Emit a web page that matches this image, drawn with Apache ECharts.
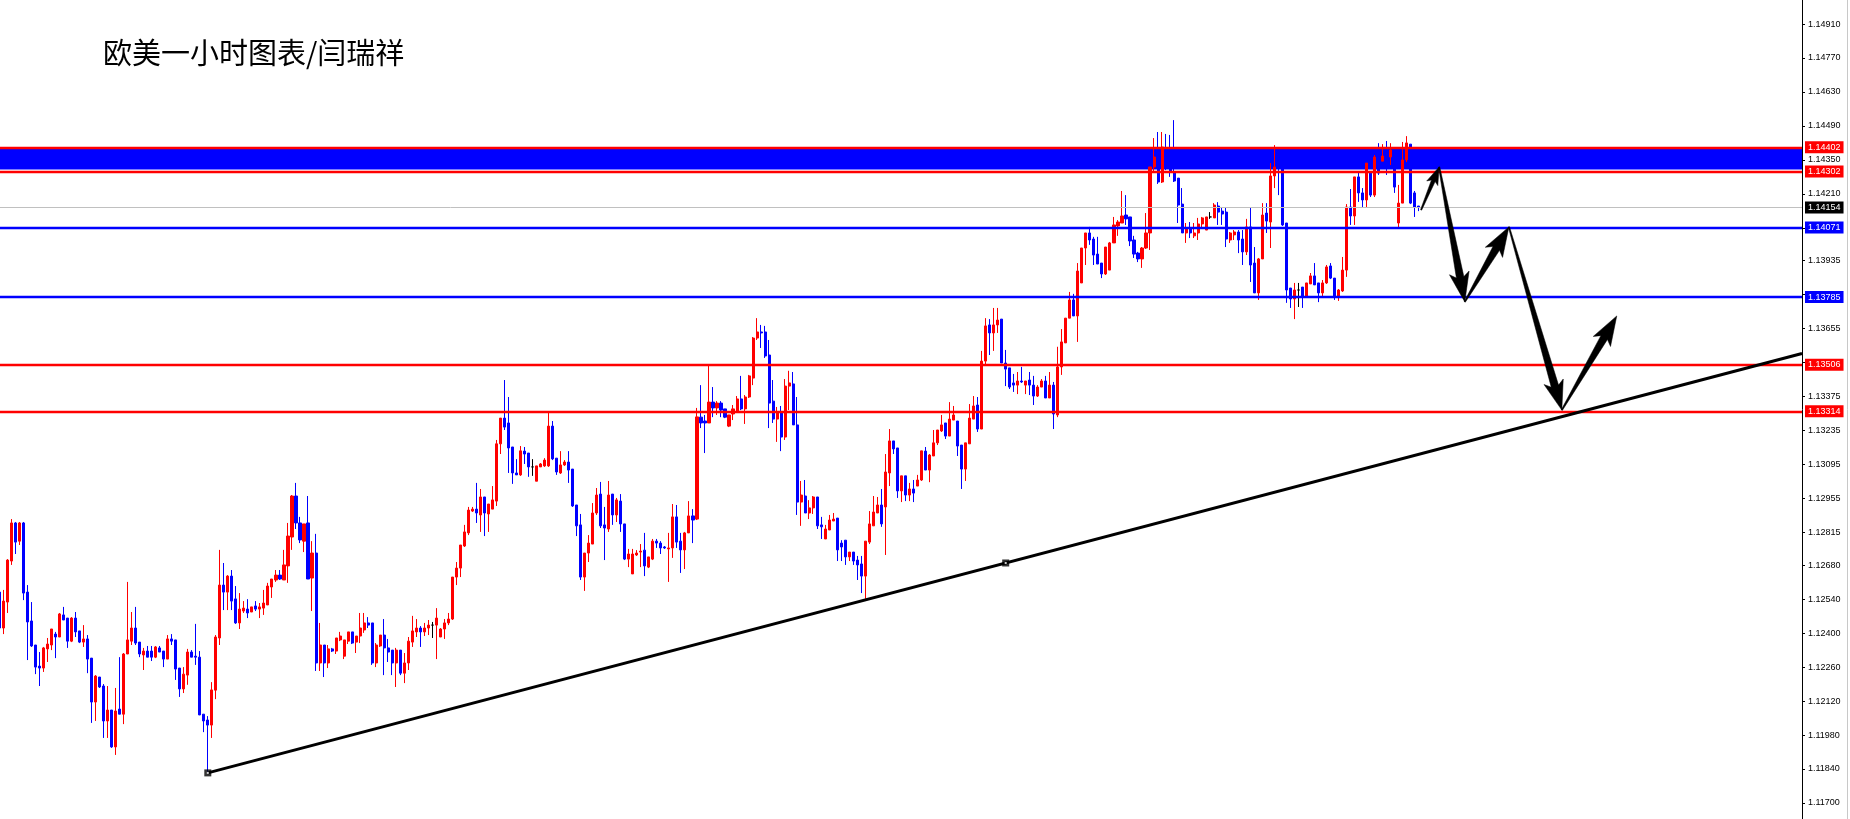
<!DOCTYPE html>
<html><head><meta charset="utf-8">
<script src="https://cdn.jsdelivr.net/npm/echarts@6/dist/echarts.min.js"></script>
<style>html,body{margin:0;padding:0;background:#fff}#c{width:1850px;height:819px}</style>
</head><body><div id="c"></div>
<script>
const chartTitle = '欧美一小时图表/闫瑞祥';
const opens = [
1.12569,1.12421,1.12528,1.12697,1.12854,1.12779,1.12854,1.12569,1.12450,1.12351,
1.12264,1.12256,1.12335,1.12351,1.12396,1.12384,1.12475,1.12462,1.12367,1.12462,
1.12409,1.12363,1.12376,1.12297,1.12116,1.12219,1.12182,1.12038,1.12083,1.11931,
1.12087,1.12066,1.12314,1.12367,1.12421,1.12363,1.12310,1.12326,1.12326,1.12301,
1.12339,1.12326,1.12293,1.12376,1.12372,1.12256,1.12170,1.12227,1.12322,1.12305,
1.12301,1.12066,1.12042,1.12021,1.12165,1.12380,1.12598,1.12569,1.12635,1.12541,
1.12442,1.12491,1.12499,1.12487,1.12512,1.12499,1.12503,1.12516,1.12590,1.12619,
1.12639,1.12619,1.12677,1.12796,1.12965,1.12854,1.12779,1.12854,1.12627,1.12730,
1.12277,1.12351,1.12277,1.12335,1.12326,1.12372,1.12305,1.12367,1.12405,1.12363,
1.12388,1.12413,1.12442,1.12442,1.12277,1.12347,1.12392,1.12339,1.12330,1.12277,
1.12330,1.12235,1.12277,1.12363,1.12405,1.12421,1.12405,1.12421,1.12433,1.12433,
1.12384,1.12417,1.12442,1.12458,1.12631,1.12668,1.12759,1.12813,1.12903,1.12911,
1.12887,1.12961,1.12891,1.12911,1.12944,1.13180,1.13286,1.13266,1.13167,1.13060,
1.13052,1.13150,1.13142,1.13085,1.13026,1.13085,1.13089,1.13089,1.13253,1.13121,
1.13060,1.13093,1.13105,1.13076,1.12928,1.12846,1.12631,1.12730,1.12767,1.12895,
1.12973,1.12846,1.12829,1.12973,1.12887,1.12944,1.12850,1.12705,1.12644,1.12722,
1.12734,1.12742,1.12672,1.12705,1.12779,1.12771,1.12755,1.12747,1.12751,1.12879,
1.12779,1.12743,1.12813,1.12883,1.12870,1.13290,1.13274,1.13266,1.13352,1.13328,
1.13348,1.13324,1.13253,1.13303,1.13311,1.13365,1.13324,1.13373,1.13451,1.13616,
1.13641,1.13641,1.13546,1.13356,1.13282,1.13307,1.13208,1.13418,1.13427,1.13258,
1.12940,1.12965,1.12895,1.12916,1.12961,1.12846,1.12788,1.12825,1.12862,1.12874,
1.12771,1.12783,1.12714,1.12734,1.12701,1.12685,1.12635,1.12775,1.12842,1.12895,
1.12928,1.12920,1.13060,1.13192,1.13163,1.12986,1.13048,1.12969,1.12994,1.13006,
1.13031,1.13150,1.13072,1.13130,1.13184,1.13233,1.13266,1.13212,1.13278,1.13274,
1.13175,1.13076,1.13180,1.13282,1.13340,1.13241,1.13521,1.13670,1.13637,1.13670,
1.13694,1.13513,1.13493,1.13431,1.13422,1.13439,1.13422,1.13443,1.13422,1.13377,
1.13414,1.13439,1.13369,1.13422,1.13299,1.13497,1.13596,1.13698,1.13773,1.13707,
1.13843,1.13987,1.14049,1.14024,1.13962,1.13925,1.13880,1.13896,1.14008,1.14078,
1.14090,1.14123,1.14115,1.14020,1.13966,1.13942,1.13987,1.14049,1.14321,1.14321,
1.14259,1.14391,1.14362,1.14300,1.14275,1.14168,1.14049,1.14065,1.14037,1.14049,
1.14086,1.14061,1.14115,1.14111,1.14160,1.14139,1.14135,1.14020,1.14041,1.14053,
1.14024,1.13971,1.14074,1.13925,1.13802,1.13942,1.14131,1.14094,1.14284,1.14337,
1.14317,1.14090,1.13822,1.13777,1.13814,1.13826,1.13785,1.13839,1.13872,1.13843,
1.13802,1.13843,1.13913,1.13863,1.13785,1.13810,1.13896,1.14156,1.14119,1.14280,
1.14214,1.14185,1.14300,1.14205,1.14390,1.14345,1.14391,1.14362,1.14317,1.14090,
1.14172,1.14350,1.14415,1.14214,1.14160
];
const closes = [
1.12421,1.12532,1.12701,1.12854,1.12775,1.12854,1.12565,1.12446,1.12347,1.12260,
1.12256,1.12339,1.12355,1.12417,1.12384,1.12479,1.12454,1.12367,1.12462,1.12405,
1.12363,1.12376,1.12293,1.12116,1.12223,1.12178,1.12038,1.12083,1.11931,1.12079,
1.12066,1.12314,1.12372,1.12421,1.12359,1.12314,1.12326,1.12301,1.12301,1.12343,
1.12322,1.12293,1.12376,1.12367,1.12252,1.12170,1.12231,1.12322,1.12301,1.12301,
1.12063,1.12038,1.12021,1.12166,1.12384,1.12598,1.12569,1.12635,1.12532,1.12442,
1.12499,1.12503,1.12483,1.12508,1.12499,1.12508,1.12524,1.12594,1.12623,1.12639,
1.12623,1.12681,1.12800,1.12965,1.12854,1.12784,1.12850,1.12623,1.12730,1.12277,
1.12351,1.12277,1.12335,1.12326,1.12380,1.12388,1.12372,1.12405,1.12359,1.12388,
1.12421,1.12442,1.12433,1.12277,1.12351,1.12392,1.12339,1.12322,1.12277,1.12330,
1.12235,1.12277,1.12367,1.12409,1.12421,1.12405,1.12421,1.12433,1.12433,1.12462,
1.12417,1.12442,1.12458,1.12631,1.12668,1.12763,1.12817,1.12907,1.12911,1.12895,
1.12961,1.12895,1.12932,1.12949,1.13180,1.13286,1.13249,1.13163,1.13060,1.13052,
1.13151,1.13138,1.13085,1.13085,1.13089,1.13097,1.13113,1.13253,1.13118,1.13064,
1.13093,1.13105,1.13072,1.12924,1.12842,1.12631,1.12730,1.12771,1.12895,1.12969,
1.12842,1.12833,1.12969,1.12887,1.12949,1.12850,1.12705,1.12726,1.12726,1.12730,
1.12738,1.12677,1.12714,1.12779,1.12771,1.12751,1.12751,1.12751,1.12879,1.12775,
1.12743,1.12813,1.12883,1.12866,1.13291,1.13266,1.13266,1.13352,1.13328,1.13348,
1.13319,1.13290,1.13299,1.13324,1.13365,1.13324,1.13373,1.13460,1.13616,1.13641,
1.13637,1.13542,1.13348,1.13282,1.13307,1.13208,1.13418,1.13431,1.13258,1.12940,
1.12969,1.12895,1.12916,1.12961,1.12842,1.12838,1.12829,1.12866,1.12870,1.12743,
1.12755,1.12714,1.12734,1.12697,1.12681,1.12635,1.12779,1.12850,1.12899,1.12928,
1.12850,1.13064,1.13192,1.13159,1.12986,1.13048,1.12969,1.12994,1.12977,1.13031,
1.13151,1.13072,1.13134,1.13184,1.13237,1.13258,1.13212,1.13282,1.13299,1.13171,
1.13076,1.13184,1.13286,1.13336,1.13241,1.13521,1.13666,1.13637,1.13670,1.13690,
1.13513,1.13488,1.13414,1.13422,1.13439,1.13435,1.13439,1.13422,1.13377,1.13414,
1.13439,1.13369,1.13422,1.13303,1.13497,1.13600,1.13698,1.13773,1.13707,1.13892,
1.13987,1.14049,1.14020,1.13958,1.13921,1.13880,1.13991,1.14008,1.14082,1.14094,
1.14119,1.14107,1.14016,1.13962,1.13942,1.13987,1.14049,1.14321,1.14362,1.14259,
1.14403,1.14317,1.14300,1.14263,1.14164,1.14049,1.14065,1.14049,1.14049,1.14086,
1.14111,1.14115,1.14115,1.14164,1.14135,1.14127,1.14024,1.14049,1.14053,1.14020,
1.13971,1.14074,1.13917,1.13802,1.13942,1.14123,1.14098,1.14284,1.14321,1.14317,
1.14082,1.13814,1.13777,1.13814,1.13814,1.13785,1.13843,1.13872,1.13835,1.13802,
1.13843,1.13909,1.13863,1.13785,1.13814,1.13896,1.14156,1.14119,1.14280,1.14214,
1.14185,1.14337,1.14205,1.14362,1.14296,1.14366,1.14350,1.14391,1.14238,1.14172,
1.14350,1.14420,1.14172,1.14156,1.14154
];
const lows = [
1.12413,1.12396,1.12483,1.12681,1.12726,1.12763,1.12536,1.12289,1.12343,1.12231,
1.12182,1.12240,1.12281,1.12330,1.12297,1.12384,1.12454,1.12339,1.12363,1.12384,
1.12359,1.12343,1.12235,1.12030,1.12038,1.12174,1.11968,1.11968,1.11927,1.11898,
1.12066,1.12025,1.12314,1.12351,1.12351,1.12301,1.12248,1.12301,1.12285,1.12297,
1.12322,1.12260,1.12293,1.12351,1.12207,1.12137,1.12153,1.12187,1.12301,1.12269,
1.12062,1.11992,1.11823,1.11968,1.12128,1.12351,1.12495,1.12495,1.12495,1.12438,
1.12417,1.12483,1.12462,1.12487,1.12491,1.12462,1.12475,1.12516,1.12545,1.12611,
1.12619,1.12619,1.12607,1.12743,1.12829,1.12771,1.12734,1.12623,1.12491,1.12244,
1.12244,1.12219,1.12256,1.12322,1.12314,1.12367,1.12293,1.12355,1.12355,1.12318,
1.12359,1.12401,1.12421,1.12269,1.12260,1.12343,1.12227,1.12281,1.12227,1.12178,
1.12227,1.12194,1.12248,1.12343,1.12384,1.12343,1.12388,1.12392,1.12380,1.12293,
1.12384,1.12376,1.12433,1.12454,1.12598,1.12631,1.12755,1.12804,1.12899,1.12854,
1.12817,1.12800,1.12817,1.12911,1.12924,1.13138,1.13237,1.13060,1.13015,1.13052,
1.13048,1.13097,1.13044,1.13048,1.13026,1.13085,1.13085,1.13085,1.13113,1.13052,
1.13056,1.13089,1.13019,1.12920,1.12800,1.12619,1.12574,1.12693,1.12767,1.12887,
1.12833,1.12701,1.12817,1.12846,1.12858,1.12817,1.12701,1.12672,1.12644,1.12718,
1.12672,1.12635,1.12668,1.12701,1.12751,1.12726,1.12747,1.12611,1.12710,1.12751,
1.12648,1.12664,1.12813,1.12771,1.12866,1.13245,1.13142,1.13266,1.13290,1.13299,
1.13290,1.13286,1.13249,1.13278,1.13311,1.13319,1.13262,1.13369,1.13422,1.13608,
1.13575,1.13534,1.13245,1.13266,1.13188,1.13150,1.13196,1.13319,1.13258,1.12887,
1.12842,1.12895,1.12870,1.12891,1.12829,1.12788,1.12788,1.12825,1.12862,1.12697,
1.12697,1.12681,1.12697,1.12681,1.12619,1.12565,1.12541,1.12767,1.12842,1.12895,
1.12838,1.12722,1.13006,1.13138,1.12957,1.12940,1.12944,1.12944,1.12940,1.13006,
1.13027,1.13072,1.13022,1.13130,1.13175,1.13229,1.13200,1.13212,1.13278,1.13130,
1.12994,1.13027,1.13180,1.13282,1.13229,1.13241,1.13509,1.13546,1.13563,1.13637,
1.13513,1.13418,1.13406,1.13394,1.13385,1.13431,1.13385,1.13381,1.13340,1.13373,
1.13414,1.13369,1.13369,1.13241,1.13290,1.13464,1.13596,1.13698,1.13707,1.13600,
1.13843,1.13917,1.14000,1.13917,1.13921,1.13863,1.13876,1.13896,1.14008,1.14037,
1.14090,1.14082,1.13995,1.13946,1.13929,1.13905,1.13983,1.13979,1.14296,1.14251,
1.14255,1.14308,1.14280,1.14259,1.14090,1.14049,1.14008,1.14028,1.14028,1.14020,
1.14070,1.14061,1.14107,1.14111,1.14082,1.14082,1.13991,1.14008,1.14020,1.13966,
1.13917,1.13958,1.13847,1.13802,1.13773,1.13942,1.14049,1.13987,1.14234,1.14205,
1.14078,1.13761,1.13740,1.13694,1.13744,1.13740,1.13785,1.13839,1.13835,1.13764,
1.13785,1.13839,1.13859,1.13773,1.13769,1.13806,1.13868,1.14082,1.14082,1.14177,
1.14156,1.14156,1.14197,1.14197,1.14288,1.14345,1.14288,1.14329,1.14214,1.14070,
1.14172,1.14341,1.14168,1.14115,1.14139
];
const highs = [
1.12578,1.12578,1.12705,1.12870,1.12858,1.12858,1.12858,1.12598,1.12528,1.12351,
1.12322,1.12343,1.12380,1.12417,1.12405,1.12483,1.12508,1.12462,1.12466,1.12487,
1.12409,1.12433,1.12392,1.12297,1.12227,1.12219,1.12190,1.12182,1.12083,1.12174,
1.12301,1.12318,1.12611,1.12487,1.12508,1.12363,1.12339,1.12347,1.12347,1.12347,
1.12347,1.12326,1.12392,1.12396,1.12372,1.12256,1.12260,1.12335,1.12330,1.12438,
1.12326,1.12066,1.12058,1.12198,1.12392,1.12743,1.12689,1.12639,1.12660,1.12594,
1.12565,1.12532,1.12540,1.12508,1.12532,1.12524,1.12578,1.12607,1.12623,1.12660,
1.12660,1.12743,1.12854,1.12969,1.13019,1.12879,1.12850,1.12965,1.12779,1.12809,
1.12442,1.12351,1.12351,1.12339,1.12380,1.12405,1.12372,1.12405,1.12405,1.12388,
1.12483,1.12483,1.12466,1.12442,1.12359,1.12392,1.12458,1.12376,1.12330,1.12339,
1.12330,1.12318,1.12384,1.12471,1.12458,1.12429,1.12442,1.12454,1.12446,1.12503,
1.12421,1.12458,1.12483,1.12631,1.12693,1.12763,1.12846,1.12920,1.12920,1.13019,
1.12994,1.12961,1.12932,1.13006,1.13196,1.13286,1.13443,1.13373,1.13167,1.13117,
1.13171,1.13167,1.13142,1.13117,1.13089,1.13101,1.13121,1.13315,1.13274,1.13121,
1.13150,1.13113,1.13150,1.13076,1.12928,1.12891,1.12730,1.12804,1.12936,1.12998,
1.13023,1.12920,1.13027,1.12973,1.12957,1.12973,1.12850,1.12747,1.12747,1.12742,
1.12767,1.12813,1.12714,1.12788,1.12788,1.12779,1.12759,1.12813,1.12932,1.12928,
1.12813,1.12817,1.12944,1.12911,1.13328,1.13422,1.13299,1.13501,1.13414,1.13356,
1.13356,1.13324,1.13299,1.13340,1.13377,1.13460,1.13381,1.13464,1.13620,1.13698,
1.13670,1.13666,1.13608,1.13443,1.13332,1.13336,1.13447,1.13481,1.13476,1.13373,
1.13027,1.13031,1.12948,1.12965,1.12961,1.12879,1.12846,1.12887,1.12895,1.12874,
1.12783,1.12783,1.12734,1.12734,1.12718,1.12718,1.12779,1.12903,1.12965,1.12961,
1.12994,1.13138,1.13241,1.13192,1.13163,1.13048,1.13048,1.13019,1.13031,1.13052,
1.13151,1.13167,1.13138,1.13237,1.13237,1.13299,1.13266,1.13352,1.13336,1.13274,
1.13175,1.13184,1.13344,1.13377,1.13373,1.13563,1.13698,1.13694,1.13740,1.13740,
1.13694,1.13567,1.13493,1.13468,1.13476,1.13497,1.13439,1.13476,1.13460,1.13422,
1.13447,1.13460,1.13476,1.13435,1.13580,1.13653,1.13698,1.13806,1.13798,1.13925,
1.13987,1.14049,1.14074,1.14033,1.14033,1.13925,1.13991,1.14012,1.14115,1.14102,
1.14222,1.14205,1.14115,1.14037,1.13971,1.13991,1.14131,1.14321,1.14440,1.14465,
1.14465,1.14457,1.14453,1.14514,1.14275,1.14234,1.14090,1.14094,1.14090,1.14111,
1.14115,1.14115,1.14135,1.14172,1.14176,1.14156,1.14156,1.14053,1.14061,1.14061,
1.14061,1.14107,1.14152,1.13991,1.13946,1.14172,1.14172,1.14337,1.14411,1.14349,
1.14317,1.14090,1.13822,1.13843,1.13843,1.13826,1.13843,1.13884,1.13925,1.13843,
1.13855,1.13917,1.13925,1.13863,1.13818,1.13950,1.14168,1.14230,1.14280,1.14296,
1.14234,1.14337,1.14300,1.14370,1.14419,1.14415,1.14428,1.14419,1.14317,1.14247,
1.14424,1.14448,1.14415,1.14222,1.14160
];
// axis tick labels (price scale on the right)
const yTickLabels = [1.14910,1.14770,1.14630,1.14490,1.14350,1.14210,1.13935,1.13655,1.13375,1.13235,1.13095,1.12955,1.12815,1.12680,1.12540,1.12400,1.12260,1.12120,1.11980,1.11840,1.11700];
const yTicksHidden = [1.14070,1.13795,1.13515];
const yRange = [1.11634, 1.15009];
// horizontal levels
const redLevels = [1.14402, 1.14302, 1.13506, 1.13314];
const blueLevels = [1.14071, 1.13785];
const bidPrice = 1.14154;
const zoneBand = [1.14311, 1.14402];
// trendline anchors [candle index, price]
const trendAnchors = [[52, 1.11824], [251, 1.12689]];
// projected path drawn as arrows [candle index, price]
const arrowPath = [[354.6, 1.14144], [359.1, 1.14321], [365.5, 1.13765], [376.5, 1.14074], [389.7, 1.13319], [403.4, 1.13707]];
const xRange = [0.175, 449.6];

const chart = echarts.init(document.getElementById('c'), null, {renderer: 'canvas'});
const FONT = 'Liberation Sans';

const candleData = opens.map((o, i) => {
  const c = closes[i];
  return [i, o, c, Math.min(lows[i], o, c), Math.max(highs[i], o, c)];
});

function boxLabel(bg) {
  return {
    show: true, position: 'end', distance: 3,
    formatter: p => Number(p.value).toFixed(5),
    backgroundColor: bg, color: '#fff', fontFamily: FONT, fontSize: 9,
    padding: [2, 3, 1, 3], lineHeight: 9
  };
}
const markLines = [];
redLevels.forEach(v => markLines.push({yAxis: v, lineStyle: {color: '#ff0000', width: 2.4, type: 'solid'}, label: boxLabel('#ff0000')}));
blueLevels.forEach(v => markLines.push({yAxis: v, lineStyle: {color: '#0000ff', width: 2.4, type: 'solid'}, label: boxLabel('#0000ff')}));
markLines.push({yAxis: bidPrice, lineStyle: {color: '#c0c0c0', width: 1, type: 'solid'}, label: boxLabel('#000000')});

// extend trendline to the right edge
const slope = (trendAnchors[1][1] - trendAnchors[0][1]) / (trendAnchors[1][0] - trendAnchors[0][0]);
const trendLine = [trendAnchors[0], [xRange[1], trendAnchors[0][1] + slope * (xRange[1] - trendAnchors[0][0])]];

const arrowSegs = [];
for (let i = 0; i < arrowPath.length - 1; i++) {
  arrowSegs.push([arrowPath[i][0], arrowPath[i][1], arrowPath[i + 1][0], arrowPath[i + 1][1], i]);
}

function arrowPoints(p0, p1, headLen, headHalf, shaftHalf, tailHalf) {
  const dx = p1[0] - p0[0], dy = p1[1] - p0[1];
  const len = Math.hypot(dx, dy);
  const ux = dx / len, uy = dy / len, nx = -uy, ny = ux;
  const bx = p1[0] - ux * headLen, by = p1[1] - uy * headLen;
  const back = headLen * 0.18;
  return [
    [p0[0] + nx * tailHalf, p0[1] + ny * tailHalf],
    [bx + nx * shaftHalf, by + ny * shaftHalf],
    [bx - ux * back + nx * headHalf, by - uy * back + ny * headHalf],
    [p1[0], p1[1]],
    [bx - ux * back - nx * headHalf, by - uy * back - ny * headHalf],
    [bx - nx * shaftHalf, by - ny * shaftHalf],
    [p0[0] - nx * tailHalf, p0[1] - ny * tailHalf]
  ];
}

const option = {
  animation: false,
  backgroundColor: '#ffffff',
  title: {
    text: chartTitle, left: 98, top: 33,
    textStyle: {fontFamily: 'Noto Sans CJK SC', fontSize: 29, fontWeight: 'normal', color: '#000'}
  },
  grid: {left: 0, right: 48, top: 0, bottom: 0, containLabel: false},
  xAxis: {
    type: 'value', min: xRange[0], max: xRange[1],
    show: false, splitLine: {show: false}
  },
  yAxis: {
    type: 'value', position: 'right', min: yRange[0], max: yRange[1], scale: true,
    axisLine: {show: true, lineStyle: {color: '#000', width: 1}},
    axisTick: {show: true, inside: false, length: 3, lineStyle: {color: '#000'}, customValues: yTickLabels.concat(yTicksHidden)},
    axisLabel: {show: true, margin: 6, color: '#000', fontFamily: FONT, fontSize: 9,
      customValues: yTickLabels, formatter: v => Number(v).toFixed(5)},
    splitLine: {show: false}
  },
  graphic: [{
    type: 'line', shape: {x1: 1847.5, y1: 0, x2: 1847.5, y2: 819},
    style: {stroke: '#c8c8c8', lineWidth: 1}, silent: true
  }],
  series: [
    {
      type: 'candlestick', name: 'EURUSD H1', data: candleData,
      barWidth: 2.6, z: 2,
      itemStyle: {color: '#ff0000', color0: '#0000ff', borderColor: '#ff0000', borderColor0: '#0000ff', borderColorDoji: '#000000', borderWidth: 1},
      markArea: {
        silent: true, precision: 5,
        itemStyle: {color: '#0000ff', opacity: 1},
        data: [[{yAxis: zoneBand[1]}, {yAxis: zoneBand[0]}]]
      },
      markLine: {
        silent: true, symbol: ['none', 'none'], animation: false, precision: 5,
        data: markLines
      }
    },
    {
      type: 'line', data: trendLine, symbol: 'none', z: 6,
      lineStyle: {color: '#000', width: 3}, silent: true
    },
    {
      type: 'scatter', data: trendAnchors, symbol: 'rect', symbolSize: 7, z: 7,
      itemStyle: {color: '#000'}, silent: true
    },
    {
      type: 'scatter', data: trendAnchors, symbol: 'rect', symbolSize: 2, z: 8,
      itemStyle: {color: '#fff'}, silent: true
    },
    {
      type: 'custom', data: arrowSegs, z: 9, silent: true,
      renderItem: function (params, api) {
        const p0 = api.coord([api.value(0), api.value(1)]);
        const p1 = api.coord([api.value(2), api.value(3)]);
        const small = api.value(4) === 0;
        const pts = small ? arrowPoints(p0, p1, 15, 6, 2, 0.6) : arrowPoints(p0, p1, 25, 10, 3.8, 0.6);
        return {type: 'polygon', shape: {points: pts}, style: {fill: '#000', stroke: '#000', lineWidth: 0.5}};
      }
    }
  ]
};
chart.setOption(option);
</script>
</body></html>
